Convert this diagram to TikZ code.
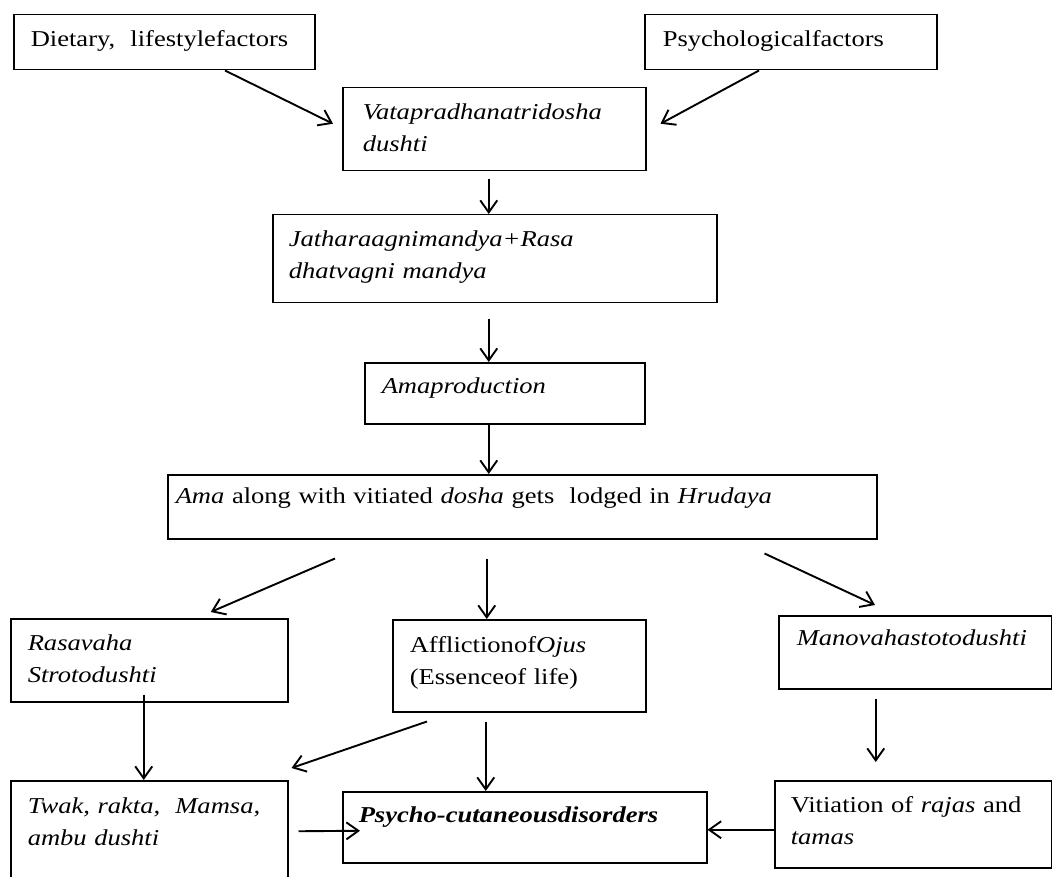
\documentclass[tikz,border=0pt]{standalone}
\usepackage{fontspec}
\setmainfont{Liberation Serif}[FakeStretch=1.17]
\usetikzlibrary{arrows.meta}

\begin{document}
\begin{tikzpicture}[x=1pt,y=-1pt,>={Straight Barb[length=12pt,width=17pt]},
  every node/.style={font=\fontsize{22.7}{32}\selectfont},
  blk/.style={draw,line width=1.5pt,anchor=north west,align=left,
    inner xsep=17pt,inner ysep=0pt,text height=32pt},
  flow/.style={->,line width=1.9pt}]
  \useasboundingbox (0,0) rectangle (1052,877);
  % top row
  \node[blk,text width=267pt,text depth=23pt] (diet) at (13,14) {Dietary,\ \ lifestylefactors};
  \node[blk,inner xsep=18pt,text width=256pt,text depth=23pt] (psych) at (644,14) {Psychologicalfactors};
  \node[blk,inner xsep=20pt,text width=263pt,text depth=51pt] (vata) at (342,87) {\textit{Vatapradhanatridosha}\\\textit{dushti}};
  % main chain
  \node[blk,inner xsep=16pt,text width=412pt,text depth=56pt] (jath) at (272,214) {\textit{Jatharaagnimandya+Rasa}\\\textit{dhatvagni mandya}};
  \node[blk,text width=246pt,text depth=30pt,text height=31pt] (amap) at (364,362) {\textit{Amaproduction}};
  \node[blk,inner xsep=8pt,text width=693pt,text depth=35pt,text height=29pt] (lodge) at (167,474) {\textit{Ama} along with vitiated \textit{dosha} gets\ \ lodged in \textit{Hrudaya}};
  % middle row
  \node[blk,text width=243pt,text depth=51pt] (rasa) at (10,618) {\textit{Rasavaha}\\\textit{Strotodushti}};
  \node[blk,text width=219pt,text depth=59pt,text height=33pt] (ojus) at (392,619) {Affliction\-of\textit{Ojus}\\(Essenceof life)};
  \node[blk,inner xsep=18pt,text width=237pt,text depth=43pt,text height=30pt] (mano) at (778,615) {\textit{Manovahastotodushti}};
  % bottom row
  \node[blk,text width=243pt,text depth=73pt,text height=33pt] (twak) at (10,780) {\textit{Twak, rakta,\ \ Mamsa,}\\\textit{ambu dushti}};
  \node[blk,inner xsep=16pt,text width=332pt,text depth=40pt,text height=31pt] (psy) at (342,791) {\textbf{\textit{Psycho-cutaneousdisorders}}};
  \node[blk,inner xsep=16pt,text width=245pt,text depth=55pt] (viti) at (774,780) {Vitiation of \textit{rajas} and\\\textit{tamas}};

  \draw[flow] ([xshift=212pt]diet.south west) -- ([xshift=-9pt,yshift=5.5pt]vata.west);
  \draw[flow] ([xshift=115pt]psych.south west) -- ([xshift=14pt,yshift=5.5pt]vata.east);
  \draw[flow] ([xshift=-5.5pt,yshift=-8pt]vata.south) -- ([xshift=-6pt]jath.north);
  \draw[flow] ([xshift=-6pt,yshift=-15pt]jath.south) -- ([xshift=-16pt]amap.north);
  \draw[flow] ([xshift=-16pt]amap.south) -- ([xshift=-33.5pt]lodge.north);
  \draw[flow] ([xshift=168pt,yshift=-19pt]lodge.south west) -- ([xshift=61.5pt,yshift=6pt]rasa.north);
  \draw[flow] ([xshift=-35.5pt,yshift=-19pt]lodge.south) -- ([xshift=-32.5pt]ojus.north);
  \draw[flow] ([xshift=-113pt,yshift=-14pt]lodge.south east) -- ([xshift=97pt,yshift=10pt]mano.north west);
  \draw[flow] ([xshift=-5.5pt,yshift=8pt]rasa.south) -- ([xshift=-5.5pt]twak.north);
  \draw[flow] ([xshift=35pt,yshift=-9pt]ojus.south west) -- ([xshift=3pt,yshift=12pt]twak.north east);
  \draw[flow] ([xshift=-33.5pt,yshift=-9pt]ojus.south) -- ([xshift=-39pt]psy.north);
  \draw[flow] ([xshift=10pt,yshift=2.5pt]twak.east) -- ([xshift=18pt,yshift=-3.5pt]psy.west);
  \draw[flow] ([yshift=-5.5pt]viti.west) -- ([yshift=-2.5pt]psy.east);
  \draw[flow] ([xshift=-39.5pt,yshift=-9pt]mano.south) -- ([xshift=-37.5pt,yshift=18pt]viti.north);
\end{tikzpicture}
\end{document}
